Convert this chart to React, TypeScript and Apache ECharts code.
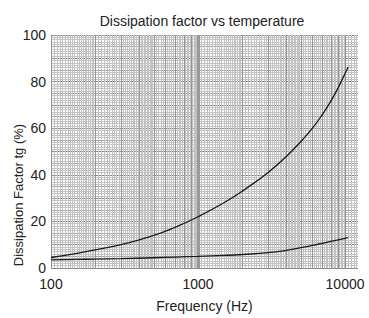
import React, { useEffect, useRef } from 'react';
import * as echarts from 'echarts';

const freqs = [100, 150, 200, 300, 500, 700, 1000, 1500, 2000, 3000, 4000, 5000, 6000, 7000, 8000, 9000, 10000, 10500];
const upperCurve = [4.5, 6.3, 7.8, 10, 14, 17.5, 22, 28, 33, 41, 48, 54.2, 60, 65.8, 71.6, 77.5, 83.5, 86.3];
const lowerCurve = [3.5, 3.7, 3.8, 4, 4.4, 4.7, 5, 5.4, 5.8, 6.6, 7.6, 8.7, 9.7, 10.6, 11.4, 12.1, 12.7, 13.0];
const xTickLabels = [100, 1000, 10000];
const yTickLabels = [0, 20, 40, 60, 80, 100];
const decades = [100, 1000, 10000];
const minorSteps = [
  { from: 1, to: 2, step: 0.05 },
  { from: 2, to: 5, step: 0.1 },
  { from: 5, to: 10, step: 0.2 },
];

const FONT = '"Liberation Sans", Arial, Helvetica, sans-serif';

function buildVerticalLines() {
  const out: any[] = [];
  const xMax = 12250;
  decades.forEach((d) => {
    minorSteps.forEach(({ from, to, step }) => {
      const n = Math.round((to - from) / step);
      for (let k = 0; k < n; k++) {
        const m = +(from + k * step).toFixed(3);
        const v = d * m;
        if (v > xMax) return;
        const isInt = Math.abs(m - Math.round(m)) < 1e-6;
        let color = '#c2c2c2';
        let width = 1;
        if (m === 1 && d === 1000) {
          color = '#999999';
          width = 3;
        } else if (m === 1) {
          color = '#909090';
        } else if (isInt) {
          color = '#959595';
        }
        out.push({ xAxis: v, lineStyle: { color, width, type: 'solid' } });
      }
    });
  });
  return out;
}

const hColors = Array.from({ length: 10 }, (_, i) => (i === 0 ? '#8a8a8a' : i === 5 ? '#a0a0a0' : '#c4c4c4'));

export default function App() {
  const ref = useRef<HTMLDivElement>(null);
  useEffect(() => {
    if (!ref.current) return;
    const chart = echarts.init(ref.current, null, { renderer: 'svg' });
    chart.setOption({
      animation: false,
      title: {
        text: 'Dissipation factor vs temperature',
        left: 197,
        textAlign: 'center',
        top: 9,
        textStyle: { fontFamily: FONT, fontSize: 14, fontWeight: 'normal', color: '#222' },
      },
      grid: { left: 51, right: 11, top: 35, bottom: 46 },
      xAxis: {
        type: 'log',
        logBase: 10,
        min: 100,
        max: 12250,
        name: 'Frequency (Hz)',
        nameLocation: 'middle',
        nameGap: 31,
        nameTextStyle: { fontFamily: FONT, fontSize: 14, color: '#222' },
        axisLine: { show: false },
        axisTick: { show: false },
        splitLine: { show: false },
        axisLabel: {
          fontFamily: FONT,
          fontSize: 14,
          lineHeight: 14,
          color: '#222',
          margin: 9,
          formatter: (v: number) => (xTickLabels.some((t) => Math.abs(t - v) < 1e-6) ? String(Math.round(v)) : ''),
        },
      },
      yAxis: {
        type: 'value',
        min: 0,
        max: 100,
        interval: 1,
        axisLine: { show: false },
        axisTick: { show: false },
        axisLabel: {
          fontFamily: FONT,
          fontSize: 14,
          lineHeight: 14,
          color: '#222',
          margin: 5,
          formatter: (v: number) => (yTickLabels.includes(Math.round(v)) && Math.abs(v - Math.round(v)) < 1e-6 ? String(Math.round(v)) : ''),
        },
        splitLine: { show: true, lineStyle: { color: hColors, width: 1 } },
      },
      graphic: [
        {
          type: 'text',
          x: 18,
          y: 195,
          rotation: Math.PI / 2,
          style: {
            text: 'Dissipation Factor tg (%)',
            fill: '#222',
            font: `13px ${FONT}`,
            textAlign: 'center',
            textVerticalAlign: 'middle',
          },
        },
      ],
      series: [
        {
          type: 'line',
          data: [],
          z: 1,
          silent: true,
          markLine: {
            z: 1,
            silent: true,
            symbol: ['none', 'none'],
            label: { show: false },
            emphasis: { disabled: true },
            data: buildVerticalLines(),
          },
        },
        {
          type: 'line',
          data: freqs.map((f, i) => [f, upperCurve[i]]),
          smooth: true,
          showSymbol: false,
          z: 10,
          lineStyle: { color: '#1a1a1a', width: 1.3 },
        },
        {
          type: 'line',
          data: freqs.map((f, i) => [f, lowerCurve[i]]),
          smooth: true,
          showSymbol: false,
          z: 10,
          lineStyle: { color: '#1a1a1a', width: 1.3 },
        },
      ],
    });
    return () => chart.dispose();
  }, []);
  return <div ref={ref} style={{ width: 369, height: 318, position: 'absolute', left: 0, top: 0 }} />;
}
